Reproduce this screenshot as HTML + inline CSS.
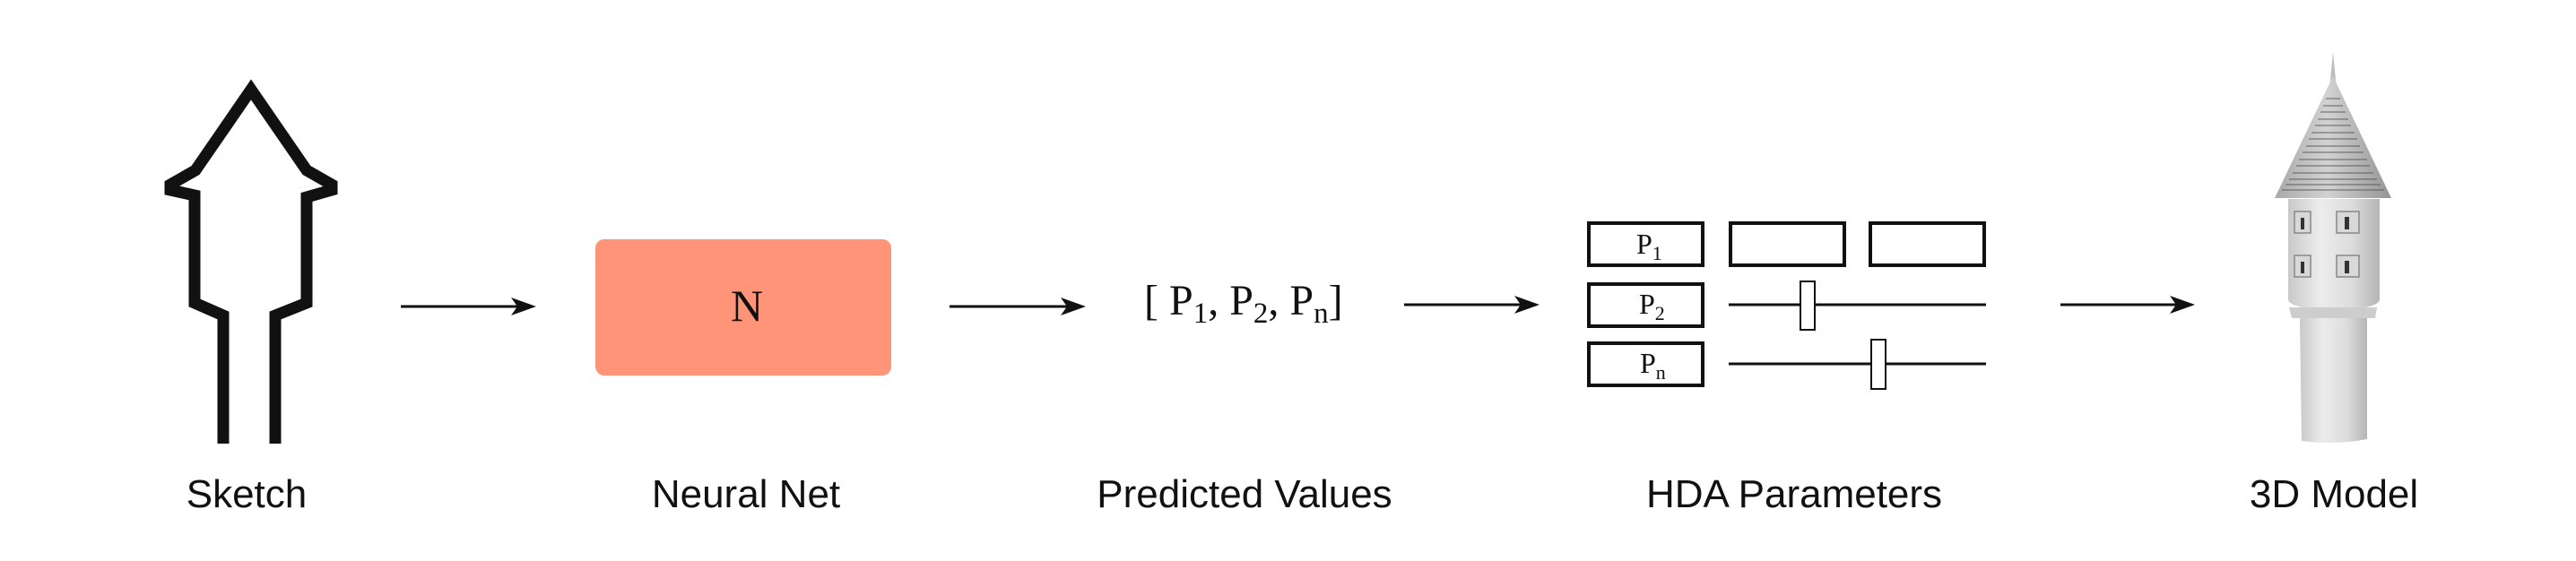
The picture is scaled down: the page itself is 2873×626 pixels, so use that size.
<!DOCTYPE html>
<html><head><meta charset="utf-8"><style>
html,body{margin:0;padding:0;background:#fff;}
svg{display:block}
.lbl{font-family:"Liberation Sans",sans-serif;font-size:44px;fill:#111;text-anchor:middle}
.ser{font-family:"Liberation Serif",serif;fill:#111}
</style></head><body>
<svg width="2873" height="626" viewBox="0 0 2873 626" xmlns="http://www.w3.org/2000/svg">
<defs>
<linearGradient id="tg" x1="0" x2="1">
<stop offset="0" stop-color="#c9c9c9"/><stop offset="0.35" stop-color="#ececec"/><stop offset="0.7" stop-color="#dcdcdc"/><stop offset="1" stop-color="#b5b5b5"/>
</linearGradient>
<linearGradient id="rg" x1="0" x2="1">
<stop offset="0" stop-color="#a8a8a8"/><stop offset="0.45" stop-color="#d2d2d2"/><stop offset="1" stop-color="#949494"/>
</linearGradient>
</defs>

<!-- Sketch -->
<path d="M249,495 L249,352 L217,338 L217,218 L190,212 L190,206 L218,190 L280,100 L342,190 L370,206 L370,212 L342,220 L342,338 L307,352 L307,495" fill="none" stroke="#111" stroke-width="13" stroke-linejoin="miter"/>

<!-- arrows -->
<g stroke="#111" stroke-width="3">
<line x1="447" y1="342" x2="585" y2="342"/>
<line x1="1059" y1="342" x2="1198" y2="342"/>
<line x1="1566" y1="340" x2="1704" y2="340"/>
<line x1="2298" y1="340" x2="2435" y2="340"/>
</g>
<g fill="#111">
<polygon points="598,342 570,332 577,342 570,352"/>
<polygon points="1211,342 1183,332 1190,342 1183,352"/>
<polygon points="1717,340 1689,330 1696,340 1689,350"/>
<polygon points="2448,340 2420,330 2427,340 2420,350"/>
</g>

<!-- Neural net -->
<rect x="664" y="267" width="330" height="152" rx="10" fill="#FF9478"/>
<text x="833" y="358" class="ser" font-size="50" text-anchor="middle">N</text>

<!-- predicted values -->
<text x="1276" y="351" class="ser" font-size="48">[ P<tspan font-size="33" dy="9">1</tspan><tspan dy="-9">, P</tspan><tspan font-size="33" dy="9">2</tspan><tspan dy="-9">, P</tspan><tspan font-size="33" dy="9">n</tspan><tspan dy="-9">]</tspan></text>

<!-- HDA parameters -->
<g fill="none" stroke="#111" stroke-width="4">
<rect x="1772" y="249" width="127" height="47"/>
<rect x="1930" y="249" width="127" height="47"/>
<rect x="2086" y="249" width="127" height="47"/>
<rect x="1772" y="317" width="127" height="47"/>
<rect x="1772" y="383" width="127" height="47"/>
</g>
<g stroke="#111" stroke-width="3">
<line x1="1928" y1="340" x2="2215" y2="340"/>
<line x1="1928" y1="406" x2="2215" y2="406"/>
</g>
<rect x="2008" y="314" width="16" height="54" fill="#fff" stroke="#111" stroke-width="2"/>
<rect x="2087" y="379" width="16" height="55" fill="#fff" stroke="#111" stroke-width="2"/>
<text x="1825" y="283" class="ser" font-size="32">P<tspan font-size="22" dy="7">1</tspan></text>
<text x="1828" y="350" class="ser" font-size="32">P<tspan font-size="22" dy="7">2</tspan></text>
<text x="1829" y="416" class="ser" font-size="32">P<tspan font-size="22" dy="7">n</tspan></text>

<!-- Tower -->
<g>
<polygon points="2602,58 2598,100 2606,100" fill="#bdbdbd"/>
<polygon points="2602,85 2537,221 2667,221" fill="url(#rg)"/>
<g stroke="#555" stroke-width="1.5" opacity="0.6">
<line x1="2594" y1="110" x2="2610" y2="110"/><line x1="2591" y1="118" x2="2613" y2="118"/><line x1="2588" y1="125" x2="2616" y2="125"/>
<line x1="2585" y1="133" x2="2619" y2="133"/><line x1="2582" y1="140" x2="2622" y2="140"/><line x1="2578" y1="148" x2="2626" y2="148"/><line x1="2575" y1="155" x2="2629" y2="155"/>
<line x1="2572" y1="163" x2="2632" y2="163"/><line x1="2568" y1="170" x2="2636" y2="170"/><line x1="2564" y1="178" x2="2640" y2="178"/><line x1="2561" y1="185" x2="2643" y2="185"/>
<line x1="2557" y1="193" x2="2647" y2="193"/><line x1="2553" y1="200" x2="2651" y2="200"/><line x1="2549" y1="206" x2="2655" y2="206"/><line x1="2545" y1="212" x2="2659" y2="212"/>
</g>
<path d="M2552,222 L2654,222 L2654,335 Q2650,345 2603,346 Q2556,345 2552,335 Z" fill="url(#tg)"/>
<path d="M2553,343 L2651,343 L2649,355 L2556,355 Z" fill="#cdcdcd"/>
<path d="M2565,355 L2640,355 L2640,490 Q2603,497 2567,492 Z" fill="url(#tg)"/>
<g fill="#d8d8d8" stroke="#888" stroke-width="1.5">
<rect x="2559" y="236" width="18" height="24"/><rect x="2606" y="236" width="25" height="24"/>
<rect x="2559" y="285" width="18" height="24"/><rect x="2606" y="285" width="25" height="24"/>
</g>
<g fill="#333">
<rect x="2566" y="243" width="4" height="13"/><rect x="2615" y="242" width="5" height="14"/>
<rect x="2566" y="292" width="4" height="13"/><rect x="2615" y="291" width="5" height="14"/>
</g>
</g>

<!-- labels -->
<text x="275" y="566" class="lbl">Sketch</text>
<text x="832" y="566" class="lbl">Neural Net</text>
<text x="1388" y="566" class="lbl">Predicted Values</text>
<text x="2001" y="566" class="lbl">HDA Parameters</text>
<text x="2603" y="566" class="lbl">3D Model</text>
</svg>
</body></html>
